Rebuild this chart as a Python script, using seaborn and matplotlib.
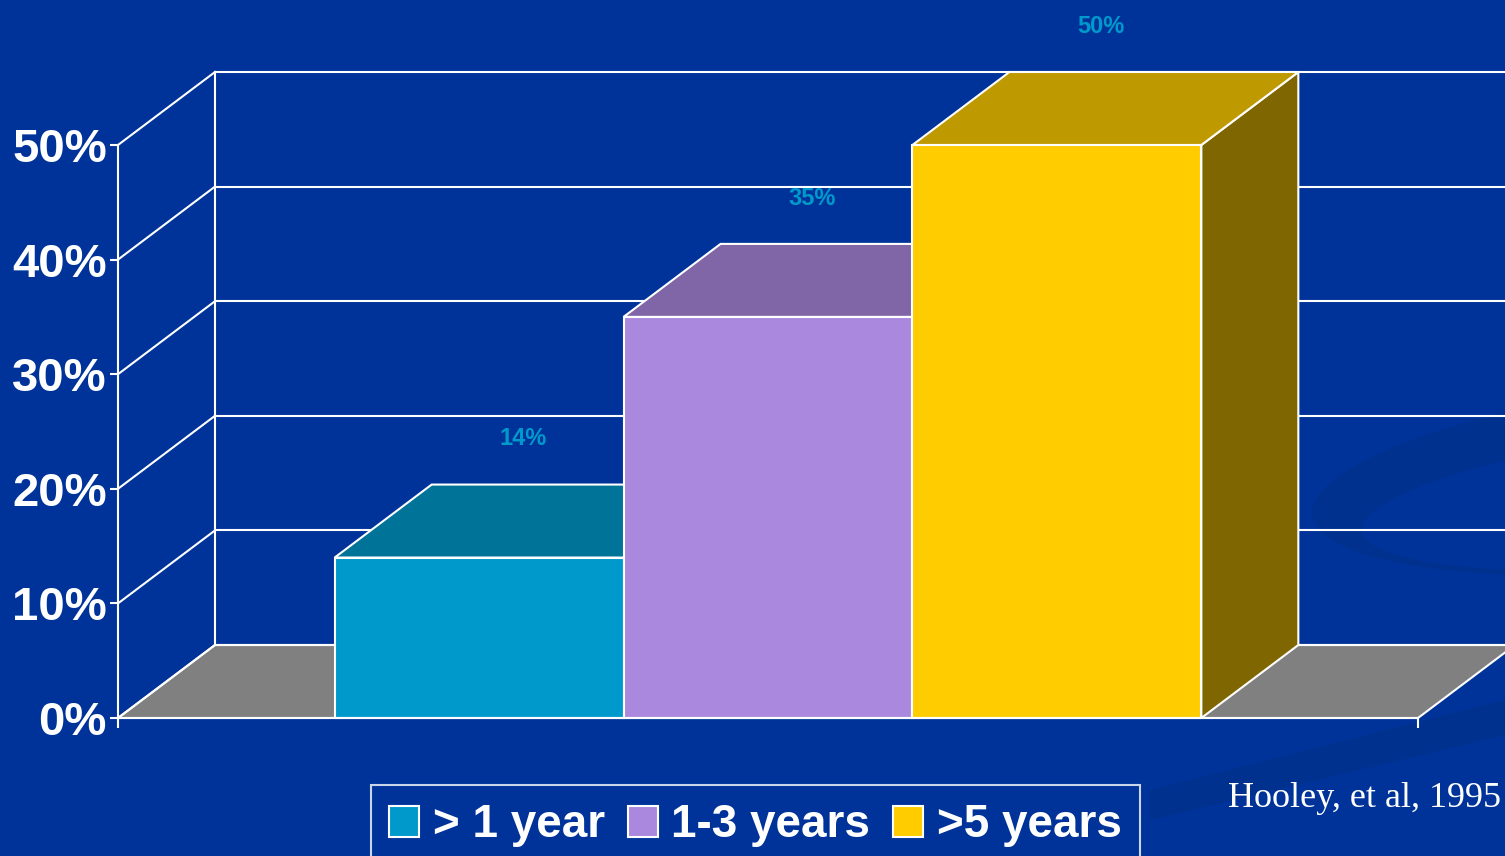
import pandas as pd
import seaborn as sns
import matplotlib.pyplot as plt
from matplotlib.patches import Polygon, Patch, Ellipse, Rectangle

# Datos del grafico
series = ["> 1 year", "1-3 years", ">5 years"]
valores = [14, 35, 50]
etiquetas = ["14%", "35%", "50%"]
ticks_y = [0, 10, 20, 30, 40, 50]
etiquetas_y = ["0%", "10%", "20%", "30%", "40%", "50%"]
fuente = "Hooley, et al, 1995"

# Colores
fondo = "#003399"
color_frente = ["#0099CC", "#AA88DD", "#FFCC00"]
color_arriba = ["#007399", "#8066A6", "#BF9900"]
color_lado = ["#00607F", "#6A5590", "#806600"]

plt.rcParams["font.family"] = ["Liberation Sans", "DejaVu Sans"]

W, H = 1505, 856
fig = plt.figure(figsize=(W / 100, H / 100), dpi=100)
fig.patch.set_facecolor(fondo)

# Fondo decorativo (remolino oscuro)
bg = fig.add_axes([0, 0, 1, 1], zorder=0)
bg.set_xlim(0, W)
bg.set_ylim(H, 0)
bg.axis("off")
bg.add_patch(Ellipse((1720, 472), 820, 190, angle=-6, color="#00318F", lw=0))
bg.add_patch(Ellipse((1750, 490), 780, 140, angle=-6, color=fondo, lw=0))
bg.add_patch(Polygon([(1150, 790), (1505, 700), (1505, 735), (1150, 820)], color="#00318F", lw=0))

# Ejes: el plano frontal del grafico
ax = fig.add_axes([118 / W, 1 - 718 / H, 1300 / W, 573 / H], zorder=1)
ax.set_facecolor("none")

df = pd.DataFrame({"grupo": ["total"] * 3, "serie": series, "valor": valores})
sns.barplot(data=df, x="grupo", y="valor", hue="serie", hue_order=series,
            palette=color_frente, width=2 / 3, saturation=1, edgecolor="white",
            linewidth=1.5, legend=False, ax=ax)
ax.set_xlim(-0.5, 0.5)
ax.set_ylim(0, 50)

barras = [p for p in ax.patches if isinstance(p, Rectangle) and p.get_height() > 0]
barras = sorted(barras, key=lambda p: p.get_x())

# Profundidad (en unidades de datos)
dx = 97 / 1300
dy = 73 / 573 * 50

# Suelo gris
ax.add_patch(Polygon([(-0.5, 0), (0.5, 0), (0.5 + dx, dy), (-0.5 + dx, dy)],
                     closed=True, facecolor="#808080", edgecolor="white",
                     lw=1.5, clip_on=False, zorder=2))

# Pared izquierda y pared del fondo
for v in ticks_y:
    ax.plot([-0.5, -0.5 + dx], [v, v + dy], color="white", lw=1.5, clip_on=False, zorder=3)
    ax.plot([-0.5 + dx, 0.5 + dx], [v + dy, v + dy], color="white", lw=1.5, clip_on=False, zorder=3)
ax.plot([-0.5 + dx, -0.5 + dx], [dy, ticks_y[-1] + dy], color="white", lw=1.5, clip_on=False, zorder=3)

# Barras en 3D
for i, p in enumerate(barras):
    x0, w, h = p.get_x(), p.get_width(), p.get_height()
    p.set_clip_on(False)
    p.set_zorder(11 + 2 * i)
    lado = Polygon([(x0 + w, 0), (x0 + w + dx, dy), (x0 + w + dx, h + dy), (x0 + w, h)],
                   closed=True, facecolor=color_lado[i], edgecolor="white",
                   lw=1.5, clip_on=False, zorder=10 + 2 * i)
    arriba = Polygon([(x0, h), (x0 + w, h), (x0 + w + dx, h + dy), (x0 + dx, h + dy)],
                     closed=True, facecolor=color_arriba[i], edgecolor="white",
                     lw=1.5, clip_on=False, zorder=10 + 2 * i)
    ax.add_patch(lado)
    ax.add_patch(arriba)
    ax.text(x0 + w / 2 + dx * 0.45, h + dy + 4.0, etiquetas[i], color="#0099CC",
            fontsize=17, fontweight="bold", ha="center", va="center",
            clip_on=False, zorder=20)

# Ejes y marcas
ax.spines[["top", "right"]].set_visible(False)
for s in ["left", "bottom"]:
    ax.spines[s].set_color("white")
    ax.spines[s].set_linewidth(1.5)
    ax.spines[s].set_zorder(25)
ax.set_yticks(ticks_y, etiquetas_y)
ax.set_xticks([-0.5, 0.5], ["", ""])
ax.tick_params(axis="y", colors="white", length=6, width=1.5, pad=2, labelsize=34)
ax.tick_params(axis="x", colors="white", length=7, width=1.5)
for lbl in ax.get_yticklabels():
    lbl.set_fontweight("bold")
ax.set_xlabel("")
ax.set_ylabel("")

# Leyenda
handles = [Patch(facecolor=c, edgecolor="white", lw=1.5, label=s)
           for c, s in zip(color_frente, series)]
leg = fig.legend(handles=handles, loc="upper left",
                 bbox_to_anchor=(371 / W, 1 - 785 / H), ncol=3, frameon=True,
                 fancybox=False, edgecolor="white", facecolor="none",
                 prop={"weight": "bold", "size": 33}, handlelength=0.65,
                 handleheight=0.65, handletextpad=0.3, columnspacing=0.5,
                 borderpad=0.4, borderaxespad=0)
leg.get_frame().set_linewidth(1.5)
for t in leg.get_texts():
    t.set_color("white")

# Fuente
fig.text(1228 / W, 1 - 807 / H, fuente, color="white", fontsize=26,
         family=["Liberation Serif", "DejaVu Serif"], va="baseline", ha="left")

fig.savefig("out.png", dpi=100, facecolor=fondo)
